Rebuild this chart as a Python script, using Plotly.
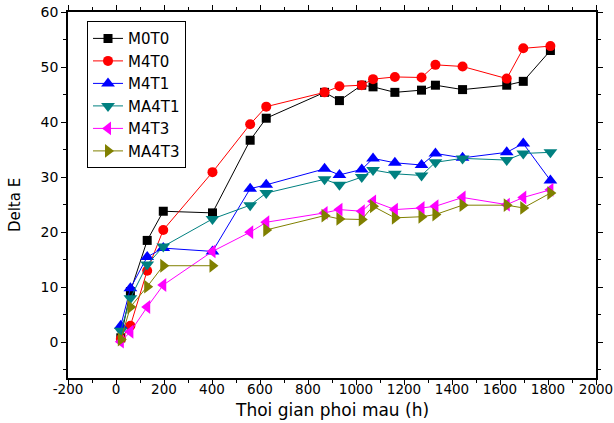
import plotly.graph_objects as go

time_h = [20, 60, 130, 197, 402, 559, 626, 869, 931, 1024, 1071, 1162, 1273, 1331, 1444, 1628, 1697, 1810]

M0T0 = [0.8, 9.2, 18.5, 23.8, 23.5, 36.7, 40.7, 45.4, 43.9, 46.7, 46.4, 45.4, 45.8, 46.7, 45.9, 46.7, 47.4, 53.0]
M4T0 = [0.6, 3.0, 13.0, 20.4, 30.9, 39.6, 42.8, 45.4, 46.5, 46.7, 47.8, 48.2, 48.1, 50.4, 50.1, 47.9, 53.4, 53.8]
M4T1 = [3.0, 9.8, 15.5, 17.1, 16.5, 27.9, 28.6, 31.5, 30.4, 31.4, 33.4, 32.6, 32.2, 34.3, 33.5, 34.5, 36.1, 29.4]
MA4T1 = [2.1, 8.0, 14.1, 17.4, 22.4, 24.9, 27.1, 29.6, 28.6, 30.0, 31.3, 30.6, 30.3, 32.7, 33.4, 33.1, 34.3, 34.5]
M4T3 = [0.1, 1.9, 6.4, 10.4, 16.5, 20.0, 21.8, 23.5, 24.1, 23.8, 25.6, 24.1, 24.4, 24.7, 26.3, 25.0, 26.3, 27.7]
MA4T3 = [0.5, 6.4, 10.1, 13.9, 13.9, None, 20.4, 23.0, 22.4, 22.3, 24.7, 22.6, 22.8, 23.2, 24.9, 24.9, 24.4, 27.1]

x_tick_vals = [-200, 0, 200, 400, 600, 800, 1000, 1200, 1400, 1600, 1800, 2000]
x_tick_text = ["-200", "0", "200", "400", "600", "800", "1000", "1200", "1400", "1600", "1800", "2000"]
y_tick_vals = [0, 10, 20, 30, 40, 50, 60]
y_tick_text = ["0", "10", "20", "30", "40", "50", "60"]
x_title = "Thoi gian phoi mau (h)"
y_title = "Delta E"

series = [
    ("M0T0", M0T0, "#000000", "square", 9),
    ("M4T0", M4T0, "#FF0000", "circle", 10),
    ("M4T1", M4T1, "#0000FF", "triangle-up", 12),
    ("MA4T1", MA4T1, "#008080", "triangle-down", 12),
    ("M4T3", M4T3, "#FF00FF", "triangle-left", 12),
    ("MA4T3", MA4T3, "#808000", "triangle-right", 12),
]

fig = go.Figure()
for name, vals, color, sym, size in series:
    fig.add_trace(go.Scatter(
        x=time_h, y=vals, name=name, mode="lines+markers",
        line=dict(color=color, width=1),
        marker=dict(symbol=sym, size=size, color=color, line=dict(width=0)),
        connectgaps=False,
    ))

font_family = "DejaVu Sans, sans-serif"

fig.update_layout(
    width=614, height=423,
    margin=dict(l=68, r=18, t=12, b=45),
    paper_bgcolor="white", plot_bgcolor="white",
    font=dict(family=font_family, color="black", size=14),
    showlegend=True,
    legend=dict(
        x=0.036, y=0.975, xanchor="left", yanchor="top",
        bgcolor="white", bordercolor="black", borderwidth=1,
        font=dict(size=15, family=font_family),
        tracegroupgap=0,
    ),
    xaxis=dict(
        range=[-200, 2000], tickmode="array", tickvals=x_tick_vals, ticktext=x_tick_text,
        showgrid=False, zeroline=False, automargin=False,
        showline=True, linecolor="black", linewidth=1.5, mirror="ticks",
        ticks="outside", ticklen=5, tickcolor="black", tickwidth=1,
        minor=dict(dtick=100, tick0=0, ticks="outside", ticklen=3, tickcolor="black"),
        tickfont=dict(size=13.5), ticklabelstandoff=-7, ticklabeloverflow="allow",
    ),
    yaxis=dict(
        range=[-6.5, 60], tickmode="array", tickvals=y_tick_vals, ticktext=y_tick_text,
        showgrid=False, zeroline=False, automargin=False,
        showline=True, linecolor="black", linewidth=1.5, mirror="ticks",
        ticks="outside", ticklen=5, tickcolor="black", tickwidth=1,
        minor=dict(dtick=5, tick0=0, ticks="outside", ticklen=3, tickcolor="black"),
        tickfont=dict(size=14),
    ),
    annotations=[
        dict(text=x_title, xref="paper", yref="paper", x=0.5, y=-0.087,
             xanchor="center", yanchor="middle", showarrow=False,
             font=dict(size=17, family=font_family, color="black")),
        dict(text=y_title, xref="paper", yref="paper", x=-0.1, y=0.473,
             xanchor="center", yanchor="middle", showarrow=False, textangle=-90,
             font=dict(size=15, family=font_family, color="black")),
    ],
)

fig.write_html("out.html", post_script="document.body.style.margin='0';",
               config={"displayModeBar": False})
